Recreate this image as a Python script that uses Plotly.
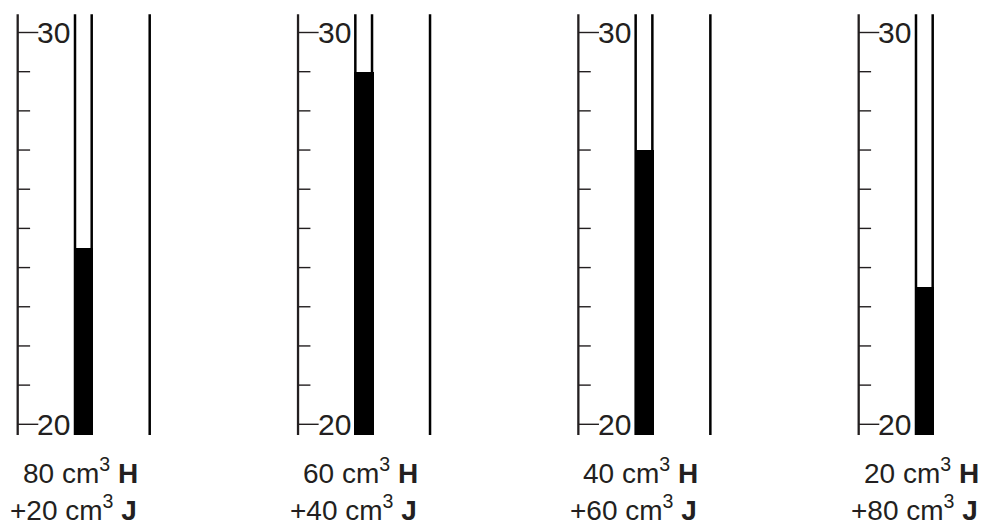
import plotly.graph_objects as go

# ---- data ----
readings = [24.5, 29.0, 27.0, 23.5]          # thermometer readings (°C)
vol_H = [80, 60, 40, 20]                       # cm3 of H
vol_J = [20, 40, 60, 80]                       # cm3 of J
scale_ticks = list(range(20, 31))              # scale graduations
labelled_ticks = [20, 30]                      # labelled graduations

# ---- layout constants (x in thermometer units: 1 unit = spacing between thermometers) ----
PX = 280.33            # pixels per thermometer spacing
PY = 39.18             # pixels per degree
PAGE_OFF = 8           # default page margin around the plot div
FONT = "Liberation Sans, Arial, Helvetica, sans-serif"
INK = "#231f20"
TOP, BOTTOM = 30.467, 19.727
TUBE_L, TUBE_R = 57.3 / PX, 74.0 / PX
FILL_C, FILL_W = 65.95 / PX, 19.3 / PX
RIGHT_LINE = 132.0 / PX
MAJOR_LEN, MINOR_LEN = 20.6 / PX, 12.4 / PX
W, H = 989 - PAGE_OFF, 521 - PAGE_OFF

fig = go.Figure()

for i, val in enumerate(readings):
    x0 = i
    # column of liquid
    fig.add_trace(go.Bar(x=[x0 + FILL_C], y=[val - BOTTOM], base=[BOTTOM], width=[FILL_W],
                         marker=dict(color="black", line=dict(width=0)), showlegend=False,
                         hoverinfo="skip"))
    # scale line
    fig.add_trace(go.Scatter(x=[x0, x0], y=[BOTTOM, TOP], mode="lines",
                             line=dict(color=INK, width=2.3), showlegend=False, hoverinfo="skip"))
    # graduations
    tx, ty = [], []
    for t in scale_ticks:
        ln = MAJOR_LEN if t in labelled_ticks else MINOR_LEN
        tx += [x0, x0 + ln, None]
        ty += [t, t, None]
    fig.add_trace(go.Scatter(x=tx, y=ty, mode="lines", line=dict(color=INK, width=1.4),
                             showlegend=False, hoverinfo="skip"))
    # tube walls and separator line
    for xx in (TUBE_L, TUBE_R, RIGHT_LINE):
        fig.add_trace(go.Scatter(x=[x0 + xx, x0 + xx], y=[BOTTOM, TOP], mode="lines",
                                 line=dict(color="black", width=2.5), showlegend=False,
                                 hoverinfo="skip"))
    # scale labels
    for t in labelled_ticks:
        fig.add_annotation(x=x0 + 17.6 / PX, y=t, text=str(t), showarrow=False,
                           xanchor="left", yanchor="middle",
                           font=dict(family=FONT, size=30, color=INK))
    # mixture labels
    fig.add_annotation(x=x0 + 122.0 / PX, y=18.80,
                       text=f"{vol_H[i]} cm<sup>3</sup> <b>H</b>", showarrow=False,
                       xanchor="right", yanchor="middle",
                       font=dict(family=FONT, size=28, color=INK))
    fig.add_annotation(x=x0 + 121.0 / PX, y=17.865,
                       text=f"+{vol_J[i]} cm<sup>3</sup> <b>J</b>", showarrow=False,
                       xanchor="right", yanchor="middle",
                       font=dict(family=FONT, size=28, color=INK))

fig.update_layout(
    width=W, height=H,
    margin=dict(l=0, r=0, t=0, b=0),
    paper_bgcolor="white", plot_bgcolor="white",
    xaxis=dict(range=[(PAGE_OFF - 17.7) / PX, (989 - 17.7) / PX], visible=False, fixedrange=True),
    yaxis=dict(range=[20 - (521 - 424.3) / PY, 30 + (32.5 - PAGE_OFF) / PY], visible=False,
               fixedrange=True),
    bargap=0,
)

fig.write_html("out.html")
